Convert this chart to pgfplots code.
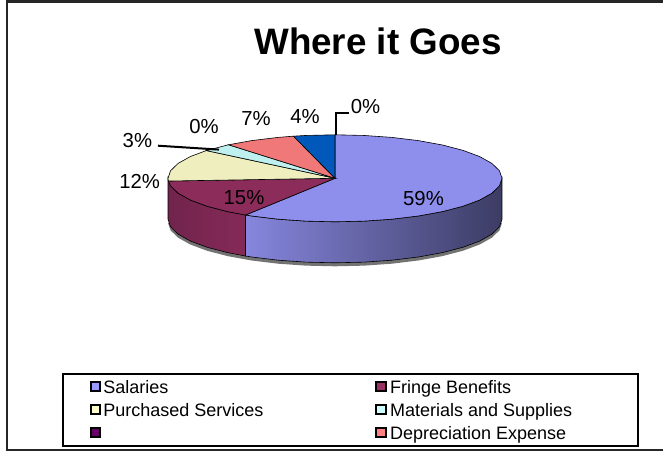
\documentclass[border=0pt]{standalone}
\usepackage{fontspec}
\setmainfont{Liberation Sans}
\usepackage{pgfplots}
\pgfplotsset{compat=1.18}

\definecolor{salTop}{RGB}{142,142,236}
\definecolor{salKey}{RGB}{153,153,255}
\definecolor{salA}{RGB}{134,134,222}
\definecolor{salB}{RGB}{88,88,146}
\definecolor{salC}{RGB}{60,60,100}
\definecolor{frTop}{RGB}{139,44,90}
\definecolor{frKey}{RGB}{153,51,102}
\definecolor{frA}{RGB}{112,36,76}
\definecolor{frB}{RGB}{134,42,88}
\definecolor{puTop}{RGB}{238,238,190}
\definecolor{puKey}{RGB}{255,255,204}
\definecolor{maTop}{RGB}{190,240,240}
\definecolor{maKey}{RGB}{204,255,255}
\definecolor{deTop}{RGB}{240,120,120}
\definecolor{deKey}{RGB}{255,128,128}
\definecolor{blueTop}{RGB}{0,88,186}
\definecolor{otherKey}{RGB}{102,0,102}

\newcommand{\lab}[2]{\makebox[#1bp][l]{\rule[-8.1bp]{0pt}{23.2bp}#2}}

\begin{document}
\begin{tikzpicture}
\useasboundingbox (0,0) rectangle (663bp,451bp);
\begin{axis}[
  hide axis, scale only axis, width=663bp, height=451bp,
  xmin=0, xmax=663, ymin=0, ymax=451, y dir=reverse, clip=false,
  legend columns=2,
  legend cell align=left,
  legend image code/.code={\draw[#1,draw=black,line width=1.9bp] (0bp,-4.6bp) rectangle (9.4bp,4.6bp);},
  legend style={
    at={(axis cs:62,373)}, anchor=north west,
    draw=black, line width=2bp, fill=white,
    inner xsep=27bp, inner ysep=4.5bp,
    font=\fontsize{18bp}{20bp}\selectfont,
    nodes={inner sep=0pt, line width=0pt},
    /tikz/row sep=6.4bp, /tikz/column sep=2bp,
  },
]

% legend keys, in reading order across the two columns
\addlegendimage{fill=salKey}   \addlegendentry{\lab{270}{Salaries}}
\addlegendimage{fill=frKey}    \addlegendentry{\lab{222}{\hspace{1.5bp}Fringe Benefits}}
\addlegendimage{fill=puKey}    \addlegendentry{\lab{270}{Purchased Services}}
\addlegendimage{fill=maKey}    \addlegendentry{\lab{222}{\hspace{1.5bp}Materials and Supplies}}
\addlegendimage{fill=otherKey} \addlegendentry{\lab{270}{}}
\addlegendimage{fill=deKey}    \addlegendentry{\lab{222}{\hspace{1.5bp}Depreciation Expense}}

% outer frame of the chart area: top, left and bottom edges
\addplot[forget plot, black!85, line width=2.2bp] coordinates {(663,1.5) (7,1.5) (7,450) (663,450)};

% soft shadow under the disc
\addplot[forget plot, fill=black!55, draw=none] coordinates {
 (502,222.8) (499.46,230.35) (491.93,237.68) (479.63,244.55) (462.93,250.76) (442.35,256.12)
 (418.5,260.47) (392.1,263.68) (364,265.64) (335,266.3) (306,265.64) (277.9,263.68) (251.5,260.47)
 (227.65,256.12) (207.07,250.76) (190.37,244.55) (178.07,237.68) (170.54,230.35) (168,222.8)} -- cycle;

% rim of the disc: Salaries, then Fringe Benefits
\addplot[forget plot, left color=salA, middle color=salB, right color=salC, draw=black, line width=0.6bp] coordinates {
 (502,178.3) (499.46,185.85) (491.93,193.18) (479.63,200.05) (462.93,206.26) (442.35,211.62)
 (418.5,215.97) (392.1,219.18) (364,221.14) (335,221.8) (306,221.14) (277.9,219.18) (251.5,215.97) (245.52,215.03)
 (245.52,256.03) (251.5,256.97) (277.9,260.18) (306,262.14) (335,262.8) (364,262.14) (392.1,260.18)
 (418.5,256.97) (442.35,252.62) (462.93,247.26) (479.63,241.05) (491.93,234.18) (499.46,226.85) (502,219.3)} -- cycle;
\addplot[forget plot, left color=frA, right color=frB, draw=black, line width=0.6bp] coordinates {
 (245.52,215.03) (227.65,211.62) (207.07,206.26) (190.37,200.05) (178.07,193.18) (170.54,185.85) (168,178.3)
 (168,219.3) (170.54,226.85) (178.07,234.18) (190.37,241.05) (207.07,247.26) (227.65,252.62) (245.52,256.03)} -- cycle;

% top face, one wedge per share: 59, 15, 12, 3, 7, 4 percent clockwise from twelve o'clock
\addplot[forget plot, fill=salTop, draw=black, line width=0.6bp] coordinates {
 (335,178.3) (335,134.8) (364,135.46) (392.1,137.42) (418.5,140.63) (442.35,144.98) (462.93,150.34)
 (479.63,156.55) (491.93,163.42) (499.46,170.75) (502,178.3) (499.46,185.85) (491.93,193.18) (479.63,200.05)
 (462.93,206.26) (442.35,211.62) (418.5,215.97) (392.1,219.18) (364,221.14) (335,221.8) (306,221.14)
 (277.9,219.18) (251.5,215.97) (245.52,215.03)} -- cycle;
\addplot[forget plot, fill=frTop, draw=black, line width=0.6bp] coordinates {
 (335,178.3) (245.52,215.03) (227.65,211.62) (207.07,206.26) (190.37,200.05) (178.07,193.18) (170.54,185.85) (168.33,181.03)} -- cycle;
\addplot[forget plot, fill=puTop, draw=black, line width=0.6bp] coordinates {
 (335,178.3) (168.33,181.03) (168,178.3) (170.54,170.75) (178.07,163.42) (190.37,156.55) (206.33,150.57)} -- cycle;
\addplot[forget plot, fill=maTop, draw=black, line width=0.6bp] coordinates {
 (335,178.3) (206.33,150.57) (227.65,144.98) (228.55,144.78)} -- cycle;
\addplot[forget plot, fill=deTop, draw=black, line width=0.6bp] coordinates {
 (335,178.3) (228.55,144.78) (251.5,140.63) (277.9,137.42) (293.47,136.17)} -- cycle;
\addplot[forget plot, fill=blueTop, draw=black, line width=0.6bp] coordinates {
 (335,178.3) (293.47,136.17) (306,135.46) (335,134.8)} -- cycle;

% leader lines of the outside labels
\addplot[forget plot, black, line width=2bp] coordinates {(158,145.7) (219,149.6)};
\addplot[forget plot, black, line width=2bp] coordinates {(349,113.3) (335.5,113.3) (335.5,135)};

% title and percentage labels
\node[font=\fontsize{36.8bp}{40bp}\selectfont\bfseries, anchor=base] at (axis cs:378,55) {Where it Goes};
\begin{scope}[every node/.style={font=\fontsize{20.3bp}{22bp}\selectfont, inner sep=0pt}]
\node at (axis cs:423.5,198.5) {59\%};
\node at (axis cs:244,197.5) {15\%};
\node at (axis cs:139.7,181) {12\%};
\node at (axis cs:137.4,141) {3\%};
\node at (axis cs:204,126.5) {0\%};
\node at (axis cs:256,119) {7\%};
\node at (axis cs:305,117) {4\%};
\node at (axis cs:365.5,107) {0\%};
\end{scope}
\end{axis}
\end{tikzpicture}
\end{document}
